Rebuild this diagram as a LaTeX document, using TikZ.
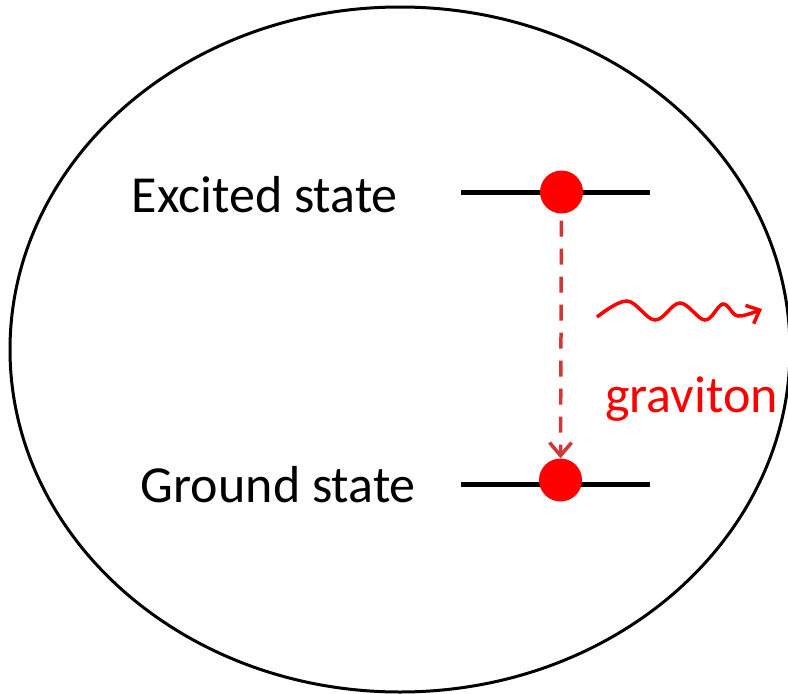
\documentclass[tikz,border=0pt]{standalone}
\usepackage{fontspec}
\setmainfont{Carlito}
\usepackage{xcolor}
\usetikzlibrary{arrows.meta,positioning}
\definecolor{dotred}{RGB}{255,0,0}
\definecolor{jumpred}{RGB}{208,56,56}
\tikzset{
  level/.style={
    line width=5pt
  },
  electron/.style={
    circle,
    fill=dotred,
    minimum size=43pt,
    inner sep=0pt
  },
  statetext/.style={
    inner sep=0pt,
    font=\fontsize{52}{62}\selectfont
  },
  jump/.style={jumpred, line width=3.5pt, dash pattern=on 16pt off 12pt,
    -{Straight Barb[length=13pt, width=22pt]}},
  wave/.style={red, line width=3.5pt, -{Straight Barb[length=11pt, width=20pt]}}
}

\begin{document}
\begin{tikzpicture}[x=1pt, y=-1pt]
  \useasboundingbox (0,0) rectangle (788,694);
  \fill[white] (0,0) rectangle (788,694);

  % the enclosing body
  \draw[line width=3pt] (400,349.5) ellipse [x radius=390, y radius=342.5];

  % energy levels
  \coordinate (exL) at (461,192);
  \coordinate (exR) at (650,192);
  \coordinate (grL) at (461,484);
  \coordinate (grR) at (650,484);
  \draw[level] (exL) -- (exR);
  \draw[level] (grL) -- (grR);
  \node[electron] (exdot) at (561.5,192) {};
  \node[electron] (grdot) at (560.5,480) {};

  \node[statetext, anchor=base east] (extext) at (398,212) {Excited state};
  \node[statetext, anchor=base east] (grtext) at (416,502) {Ground state};

  % transition
  \draw[jump, shorten <=7pt] (exdot.south) -- (grdot.north);

  % emitted graviton
  \draw[wave] plot[smooth, tension=0.6] coordinates {(597,317) (627,301) (655,320)
    (680,303) (705,320) (723,304) (738,316) (762,309)};
  \node[statetext, text=dotred, anchor=base west] (gravtext) at (605,412) {graviton};
\end{tikzpicture}
\end{document}
